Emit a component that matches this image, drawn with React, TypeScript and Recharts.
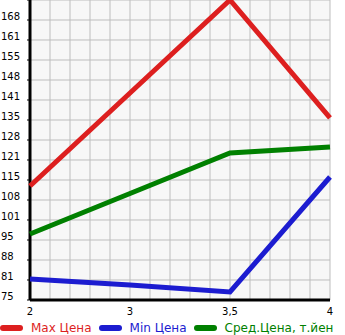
import { LineChart, Line, XAxis, YAxis, CartesianGrid, Legend, ReferenceLine } from "recharts";

const categories = ["2", "3", "3,5", "4"];
const maxPrice = [113, 144, 175, 135.7];
const minPrice = [82, 80, 77.7, 116];
const avgPrice = [97, 110.5, 124, 126];

const yTicks = [75, 81.67, 88.33, 95, 101.67, 108.33, 115, 121.67, 128.33, 135, 141.67, 148.33, 155, 161.67, 168.33, 175];
const yTickLabels = ["75", "81", "88", "95", "101", "108", "115", "121", "128", "135", "141", "148", "155", "161", "168", ""];
const gridColumns = 15;

const seriesInfo = [
  { key: "max", name: "Max Цена", color: "#dd1f1f" },
  { key: "min", name: "Min Цена", color: "#1c1cd0" },
  { key: "avg", name: "Сред.Цена, т.йен", color: "#008000" },
];

const data = categories.map((c, i) => ({
  x: c,
  max: maxPrice[i],
  min: minPrice[i],
  avg: avgPrice[i],
}));

const font = "'DejaVu Sans', Verdana, sans-serif";

function YTick(props: any) {
  const { x, y, index } = props;
  return (
    <g>
      <line x1={x + 5} y1={y} x2={x + 8} y2={y} stroke="#000" strokeWidth={1} />
      <text x={1} y={y} fontSize={10} fontFamily={font} fill="#000">
        {yTickLabels[index]}
      </text>
    </g>
  );
}

function XTick(props: any) {
  const { x, y, payload } = props;
  return (
    <text x={x} y={y + 7} textAnchor="middle" fontSize={10} fontFamily={font} fill="#000">
      {payload.value}
    </text>
  );
}

function LegendContent() {
  return (
    <div style={{ display: "flex", alignItems: "center", height: 15, whiteSpace: "nowrap", fontFamily: font, fontSize: 12 }}>
      {seriesInfo.map((s) => (
        <div key={s.key} style={{ display: "flex", alignItems: "center", marginRight: 7 }}>
          <svg width={23} height={8} style={{ marginRight: 8 }}>
            <line x1={3} y1={4} x2={20} y2={4} stroke={s.color} strokeWidth={6} strokeLinecap="round" />
          </svg>
          <span style={{ color: s.color }}>{s.name}</span>
        </div>
      ))}
    </div>
  );
}

const verticalLines = ({ offset }: any) =>
  Array.from({ length: gridColumns + 1 }, (_, i) => offset.left + (i * offset.width) / gridColumns);

export default function App() {
  return (
    <div style={{ position: "absolute", left: 0, top: 0, width: 345, height: 335, overflow: "hidden", background: "#fff" }}>
      <LineChart width={345} height={335} data={data} margin={{ top: 0, right: 15, left: 0, bottom: 0 }}>
        <CartesianGrid stroke="#bdbdbd" fill="#f7f7f7" verticalCoordinatesGenerator={verticalLines} />
        <XAxis
          dataKey="x"
          height={20}
          axisLine={false}
          tickLine={false}
          tick={<XTick />}
          interval={0}
        />
        <YAxis
          width={30}
          domain={[75, 175]}
          ticks={yTicks}
          interval={0}
          tick={<YTick />}
          axisLine={false}
          tickLine={false}
        />
        <Legend verticalAlign="bottom" align="left" content={<LegendContent />} wrapperStyle={{ left: 0, bottom: 0, width: 345, height: 15, overflow: "hidden" }} />
        <ReferenceLine y={75} stroke="#000" strokeWidth={3} />
        <ReferenceLine x="2" stroke="#000" strokeWidth={3} />
        {seriesInfo.map((s) => (
          <Line
            key={s.key}
            dataKey={s.key}
            name={s.name}
            stroke={s.color}
            strokeWidth={5}
            dot={false}
            activeDot={false}
            isAnimationActive={false}
          />
        ))}
      </LineChart>
    </div>
  );
}
